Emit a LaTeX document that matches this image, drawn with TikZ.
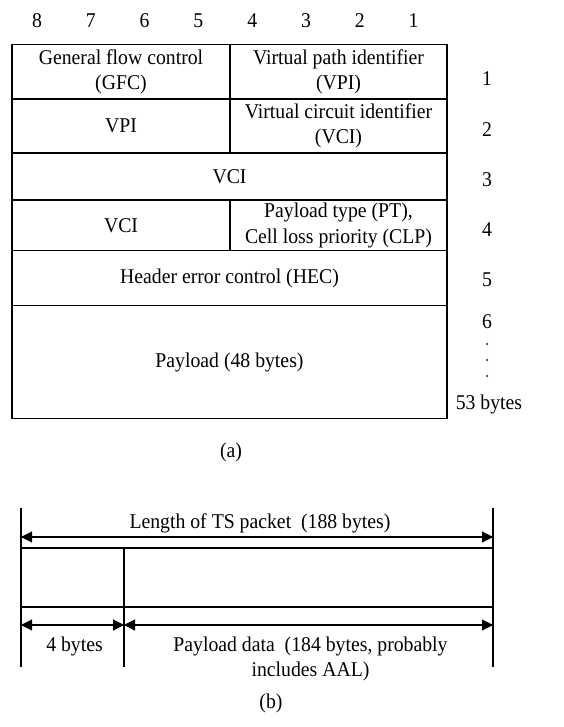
\documentclass[tikz,border=0pt]{standalone}
\usepackage{fontspec}
\setmainfont{Liberation Serif}[FakeStretch=0.94]
\usetikzlibrary{arrows.meta, positioning}

\begin{document}
\begin{tikzpicture}[x=1pt, y=-1pt,
    font=\fontsize{21}{25.5}\selectfont,
    cell/.style={rectangle, draw, line width=1.6pt, outer sep=0pt, inner sep=2pt, align=center},
    leftcell/.style={cell, minimum width=218pt},
    rightcell/.style={cell, minimum width=217pt},
    fullcell/.style={cell, minimum width=435pt},
    num/.style={inner sep=1pt},
    dotmark/.style={circle, fill, inner sep=0pt, minimum size=2pt},
    dimline/.style={line width=1.6pt},
    dimarrow/.style={{Triangle[length=11pt,width=11pt]}-{Triangle[length=11pt,width=11pt]}, line width=1.1pt}]

    \useasboundingbox (0,0) rectangle (563,727);

    % Bit numbers
    \foreach \b [count=\i from 0] in {8,7,...,1}
        \node[num] (bit\b) at ({37+53.8*\i},21) {\b};

    % ATM cell
    \node[leftcell, minimum height=54.5pt, anchor=north west] (gfc) at (12,44.5) {General flow control\\(GFC)};
    \node[rightcell, minimum height=54.5pt, right=0pt of gfc] (vpihi) {Virtual path identifier\\(VPI)};
    \node[leftcell, minimum height=54pt, below=0pt of gfc] (vpilo) {VPI};
    \node[rightcell, minimum height=54pt, right=0pt of vpilo] (vcihi) {Virtual circuit identifier\\(VCI)};
    \node[fullcell, minimum height=47pt, below=0pt of vpilo.south west, anchor=north west] (vcimid) {VCI};
    \node[leftcell, minimum height=50.5pt, below=0pt of vcimid.south west, anchor=north west] (vcilo) {VCI};
    \node[rightcell, minimum height=50.5pt, right=0pt of vcilo] (ptclp) {Payload type (PT),\\Cell loss priority (CLP)};
    \node[fullcell, minimum height=55pt, below=0pt of vcilo.south west, anchor=north west] (hec) {Header error control (HEC)};
    \node[fullcell, minimum height=113pt, below=0pt of hec] (payload) {Payload (48 bytes)};

    % Octet numbers
    \foreach \r/\y in {1/79,2/130,3/180,4/230,5/280,6/322}
        \node[num] (octet\r) at (487,\y) {\r};
    \foreach \d/\y in {1/344,2/360,3/376}
        \node[dotmark] (dot\d) at (487,\y) {};
    \node[num] (octetlast) at (489,404) {53 bytes};

    \node (capa) at (231,452) {(a)};

    % TS packet
    \node[cell, minimum width=103pt, minimum height=59pt, anchor=north west] (tshead) at (21,548) {};
    \node[cell, minimum width=369pt, minimum height=59pt, right=0pt of tshead] (tsdata) {};

    % Extension lines
    \coordinate[above=40pt of tshead.north west] (extA);
    \coordinate[above=40pt of tsdata.north east] (extB);
    \coordinate[below=60pt of tshead.south west] (extC);
    \coordinate[below=60pt of tshead.south east] (extD);
    \coordinate[below=60pt of tsdata.south east] (extE);
    \draw[dimline] (extA) -- (extC);
    \draw[dimline] (extB) -- (extE);
    \draw[dimline] (tshead.south east) -- (extD);

    % Arrows with labels
    \coordinate[above=11pt of tshead.north west] (lenL);
    \coordinate[above=11pt of tsdata.north east] (lenR);
    \draw[dimarrow] (lenL) -- node[above, xshift=3pt] (lenlabel) {Length of TS packet\ \ (188 bytes)} (lenR);

    \coordinate[below=18pt of tshead.south west] (hdrL);
    \coordinate[below=18pt of tshead.south east] (hdrR);
    \coordinate[below=18pt of tsdata.south east] (datR);
    \draw[dimarrow] (hdrL) -- node[below=8pt, xshift=2pt] (hdrlabel) {4 bytes} (hdrR);
    \draw[dimarrow] (hdrR) -- node[below=8pt, align=center, xshift=2pt] (datlabel) {Payload data\ \ (184 bytes, probably\\includes AAL)} (datR);

    \node (capb) at (271,703) {(b)};

\end{tikzpicture}
\end{document}
